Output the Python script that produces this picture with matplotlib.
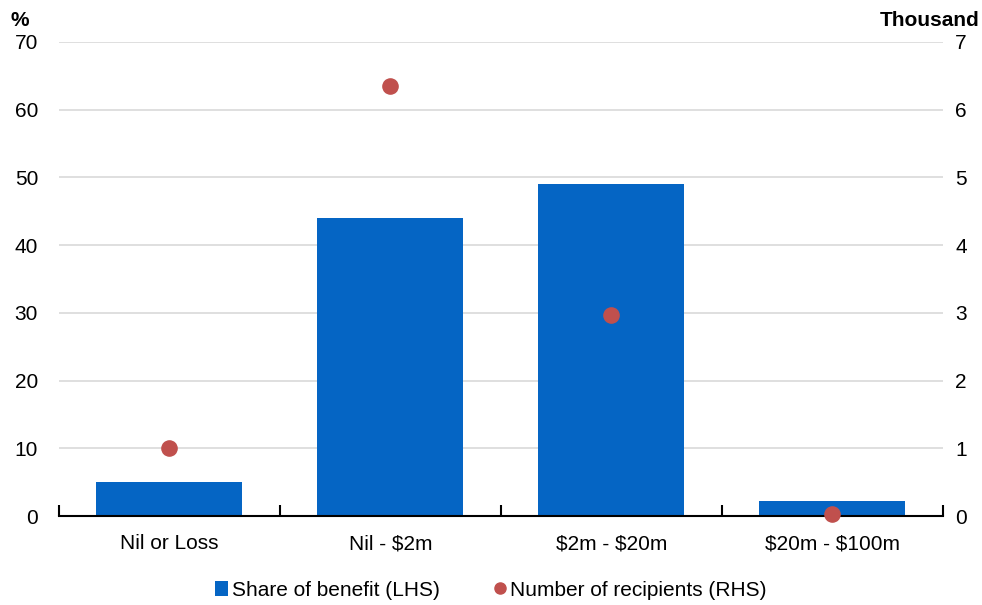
import numpy as np
import matplotlib
matplotlib.use("Agg")
import matplotlib.pyplot as plt
from matplotlib.lines import Line2D
from matplotlib.patches import Patch

plt.rcParams['font.family'] = ['Liberation Sans', 'DejaVu Sans']

# data
categories = ["Nil or Loss", "Nil - \\$2m", "\\$2m - \\$20m", "\\$20m - \\$100m"]
share = [5.0, 44.0, 49.0, 2.2]          # % (LHS)
recipients = [1.0, 6.35, 2.97, 0.03]    # thousand (RHS)

bar_color = "#0565C4"
dot_color = "#C0504D"

fig = plt.figure(figsize=(9.82, 6.05), dpi=100)
ax = fig.add_axes([0.060, 0.147, 0.900, 0.784])
ax2 = ax.twinx()

x = np.arange(len(categories))
ax.bar(x, share, width=0.66, color=bar_color, zorder=2)
ax2.scatter(x, recipients, s=120, color=dot_color, zorder=3, clip_on=False)

ax.set_xlim(-0.5, len(categories) - 0.5)
ax.set_ylim(0, 70)
ax2.set_ylim(0, 7)
ax.set_yticks(range(0, 71, 10))
ax2.set_yticks(range(0, 8))

ax.grid(axis='y', color='#D9D9D9', linewidth=1.2, zorder=0)
ax.set_axisbelow(True)

for a in (ax, ax2):
    for s in ['top', 'left', 'right', 'bottom']:
        a.spines[s].set_visible(False)
ax.spines['bottom'].set_visible(True)
ax.spines['bottom'].set_linewidth(1.5)

ax.set_xticks(x)
ax.set_xticklabels(categories, fontsize=15)
ax.tick_params(axis='x', length=0, pad=13)
ax.set_xticks(np.arange(-0.5, len(categories)), minor=True)
ax.tick_params(axis='x', which='minor', direction='in', length=8, width=1.5)

ax.tick_params(axis='y', length=0, labelsize=15, pad=15)
ax2.tick_params(axis='y', length=0, labelsize=15, pad=9)

fig.text(0.011, 0.950, "%", fontsize=15, fontweight='bold', ha='left', va='bottom')
fig.text(0.997, 0.950, "Thousand", fontsize=15, fontweight='bold', ha='right', va='bottom')

handles = [Patch(facecolor=bar_color, label="Share of benefit (LHS)"),
           Line2D([], [], marker='o', linestyle='none', markersize=8,
                  color=dot_color, label="Number of recipients (RHS)")]
fig.legend(handles=handles, loc='lower center', bbox_to_anchor=(0.5, -0.022),
           ncol=2, frameon=False, fontsize=15, handlelength=0.6,
           handletextpad=0.2, columnspacing=2.6)

fig.savefig("out.png", dpi=100)
